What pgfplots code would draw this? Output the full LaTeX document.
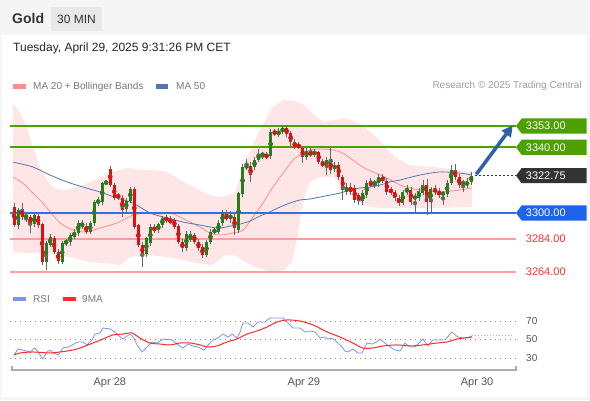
\documentclass[border=0pt]{standalone}
\usepackage{fontspec}
\setmainfont{Liberation Sans}
\usepackage{pgfplots}
\usepackage{pgfplotstable}
\pgfplotsset{compat=1.18}
\usetikzlibrary{arrows.meta}

\definecolor{cgreen}{HTML}{2A7A1E}
\definecolor{cred}{HTML}{E01010}
\definecolor{wick}{HTML}{666666}
\definecolor{lvgreen}{HTML}{4CA000}
\definecolor{lvblue}{HTML}{2F6FE8}
\definecolor{tagblue}{HTML}{1E63F0}
\definecolor{tagdark}{HTML}{333333}
\definecolor{lvred}{HTML}{FF9E9E}
\definecolor{txtred}{HTML}{FF3030}
\definecolor{bbfill}{HTML}{FFE6E6}
\definecolor{ma20}{HTML}{FF8C8C}
\definecolor{ma50}{HTML}{5276B8}
\definecolor{arrowblue}{HTML}{2D62A8}
\definecolor{rsiblue}{HTML}{7B96E6}
\definecolor{rsired}{HTML}{FF2A2A}
\definecolor{txtgray}{HTML}{777777}
\definecolor{axgray}{HTML}{555555}

% 30 min candles, bar index / open / high / low / close
\pgfplotstableread{
i o h l c
0 3303.6 3306 3291.4 3292.6
1 3292.6 3303 3290.5 3301.8
2 3302.4 3306 3296 3297.5
3 3297.5 3299 3294.5 3298.5
4 3297.5 3299 3287.8 3293.2
5 3293.2 3300 3291.5 3298.7
6 3298.1 3300 3291 3292.6
7 3293.2 3294 3268.2 3270.1
8 3270.1 3283 3265.2 3281.7
9 3280.4 3287 3279 3285.3
10 3284.7 3286 3275 3276.2
11 3276.2 3278 3269 3270.7
12 3270.1 3283 3269 3281.7
13 3281.7 3284 3280 3282.9
14 3282.3 3288 3280 3286.5
15 3285.3 3290 3284 3288.4
16 3287.8 3296 3286 3293.9
17 3291.4 3296 3290 3293.9
18 3292 3294 3287 3288.4
19 3288.4 3295 3287 3293.9
20 3293.9 3308 3292 3306.7
21 3306.7 3310 3304 3307.3
22 3306.7 3319 3305 3318.2
23 3318.2 3320 3317 3318.8
24 3326.8 3328.6 3316 3317.0
25 3317 3318 3308 3309.1
26 3310.9 3312 3308 3309.7
27 3309.1 3311 3297.5 3301.8
28 3302.4 3309 3300 3307.3
29 3307.3 3316 3306 3314.6
30 3314.6 3316 3290 3291.4
31 3292.6 3293 3279 3280.4
32 3280.4 3282 3267 3274.3
33 3275 3285.5 3273 3284.7
34 3281.7 3293 3280 3291.4
35 3290.8 3293 3288 3289.6
36 3289.6 3294 3288 3293.2
37 3292.6 3298 3291 3296.9
38 3296.9 3299 3294 3295.7
39 3296.3 3298 3293 3293.9
40 3295.7 3297 3290 3291.4
41 3292 3293 3281 3282.3
42 3282.3 3284 3276 3278.6
43 3278.6 3289 3277 3287.1
44 3283.5 3289 3282 3287.1
45 3286.5 3288 3281 3282.3
46 3282.3 3284 3277 3278.6
47 3279.2 3281 3272.5 3274.3
48 3274.3 3283.5 3273 3282.3
49 3282.3 3290 3281 3288.4
50 3288.4 3291 3287 3289.6
51 3288.4 3296 3287 3293.9
52 3293.9 3302 3292 3300.0
53 3299.3 3302 3295 3296.3
54 3296.3 3301 3294 3298.7
55 3297.5 3300 3286.5 3290.8
56 3289.6 3313 3288 3312.1
57 3311.5 3330 3310 3328.0
58 3328 3333 3326 3328.6
59 3328.6 3331 3318.9 3323.1
60 3328.0 3334 3326 3332.3
61 3332.3 3339 3331 3335.9
62 3335.3 3337 3333 3335.9
63 3335.3 3337 3333 3334.1
64 3334.7 3351 3333 3349.3
65 3349.3 3351 3347 3348.7
66 3348.1 3352 3346 3349.3
67 3349.3 3353.5 3348 3351.8
68 3351.8 3353.5 3346 3348.1
69 3348.7 3350 3341 3343.2
70 3343.2 3345 3339 3340.2
71 3341.4 3343 3339 3340.2
72 3339.6 3341 3330.4 3334.1
73 3334.1 3340 3332 3337.8
74 3337.1 3340 3334 3335.3
75 3335.9 3339 3334 3337.1
76 3337.1 3338 3330 3331.0
77 3330.4 3333 3328 3329.2
78 3329.2 3334 3323.1 3332.3
79 3332.3 3339.6 3324 3326.2
80 3326.8 3331 3325 3329.2
81 3329.2 3331 3320 3321.9
82 3321.9 3323 3307.9 3314.0
83 3312.8 3318 3311 3315.8
84 3315.8 3318 3311 3312.8
85 3315.2 3317 3306 3307.9
86 3310.9 3312 3304.8 3307.3
87 3307.3 3314 3305 3312.1
88 3310.9 3320 3309 3318.2
89 3318.2 3321 3316 3317.0
90 3317.6 3320 3315 3318.9
91 3318.2 3324 3316 3321.9
92 3321.9 3324 3318 3319.5
93 3319.5 3321 3311 3312.8
94 3314.0 3316 3311 3312.8
95 3312.8 3314 3307 3309.1
96 3309.1 3311 3304 3306.0
97 3306 3314 3305 3312.8
98 3312.8 3317 3311 3314.6
99 3314.0 3316 3305 3306.7
100 3309.1 3312 3300 3309.7
101 3309.1 3315 3307 3313.4
102 3312.1 3320 3311 3317.0
103 3317 3321 3298.7 3306.7
104 3306.7 3316 3299.3 3314.6
105 3314.6 3317 3311 3312.8
106 3313.4 3315 3309 3310.9
107 3311.5 3313 3304.8 3312.1
108 3311.5 3320 3310 3318.2
109 3318.2 3329.2 3317 3326.2
110 3326.2 3330 3320 3321.9
111 3321.9 3324 3315 3317.0
112 3317.6 3320 3312.8 3318.9
113 3317.0 3321 3315 3318.9
114 3318.9 3325 3317 3322.75
}\candles

\begin{document}
\begin{tikzpicture}[x=1pt,y=1pt]
\fill[black!4] (0,0) rectangle (590,-400);
\fill[white] (2,-35) rectangle (587,-397);

% header
\node[anchor=west, inner sep=0, font=\fontsize{14}{16}\selectfont\bfseries, text=tagdark] at (12,-18) {Gold};
\fill[black!9] (51,-7) rectangle (102,-31);
\node[inner sep=0, font=\fontsize{12}{14}\selectfont, text=tagdark] at (76.5,-19) {30 MIN};
\node[anchor=west, inner sep=0, font=\fontsize{12}{14}\selectfont, text=black!85] at (13,-48) {Tuesday, April 29, 2025 9:31:26 PM CET};

% legends
\fill[ma20] (13,-84.3) rectangle (26,-89);
\node[anchor=west, inner sep=0, font=\fontsize{10}{12}\selectfont, text=txtgray] at (33,-86.5) {MA 20 + Bollinger Bands};
\fill[ma50] (156,-84.3) rectangle (168,-89);
\node[anchor=west, inner sep=0, font=\fontsize{10}{12}\selectfont, text=txtgray] at (176,-86.5) {MA 50};
\node[anchor=east, inner sep=0, font=\fontsize{10}{12}\selectfont, text=black!38] at (582,-86) {Research © 2025 Trading Central};
\fill[rsiblue] (13,-297.3) rectangle (26,-300.7);
\node[anchor=west, inner sep=0, font=\fontsize{10}{12}\selectfont, text=txtgray] at (33,-299) {RSI};
\fill[rsired] (63,-297.3) rectangle (76,-300.7);
\node[anchor=west, inner sep=0, font=\fontsize{10}{12}\selectfont, text=txtgray] at (82,-299) {9MA};

% price panel
\begin{axis}[
    at={(10pt,-95pt)}, anchor=north west,
    scale only axis, width=506pt, height=187pt,
    xmin=-1, xmax=125.2, ymin=3257.9, ymax=3371.9,
    axis lines=none, clip=false,
]
% Bollinger band: upper edge left to right, then lower edge right to left
\addplot[fill=bbfill, draw=none, forget plot] coordinates {
(-0.25,3367.0) (1.5,3360.9) (3.2,3352.4) (4.7,3340.2) (6.5,3328.0) (8.2,3320.1)
(9.7,3315.8) (11.5,3314.0) (13.2,3314.0) (17.2,3317.0) (21.4,3321.3) (24.7,3325.0)
(28.2,3327.4) (31.4,3326.2) (34.7,3326.2) (38.2,3325.0) (41.4,3320.1) (44.4,3316.4)
(48.6,3310.9) (51.9,3309.7) (55.1,3312.1) (57.6,3331.0) (61.1,3349.3) (64.3,3364.0)
(67.1,3368.9) (70.1,3368.2) (72.6,3365.2) (74.8,3359.7) (77.3,3355.4) (82.3,3357.9)
(85.5,3355.4) (89.0,3349.3) (91.5,3343.2) (95.3,3333.5) (98.5,3329.2) (107.0,3327.4)
(114.2,3325.0)
(114.2,3303.6) (103.7,3303.0) (96.3,3303.0) (91.3,3303.0) (86.8,3304.8) (84.3,3309.7)
(81.8,3317.0) (79.6,3321.9) (76.3,3321.9) (73.8,3318.9) (72.1,3307.9) (70.8,3286.5)
(69.3,3270.1) (67.3,3265.2) (64.3,3264.0) (61.1,3266.4) (57.6,3270.1) (55.1,3274.3)
(52.6,3274.3) (49.4,3268.2) (45.4,3269.5) (42.1,3271.3) (38.2,3273.1) (33.9,3274.3)
(28.9,3273.1) (26.4,3268.2) (22.4,3269.5) (18.5,3270.1) (15.2,3272.5) (8.5,3275.6)
(3.5,3275.6) (-0.25,3276.2)};

% MA 20
\addplot[ma20, line width=0.8pt, smooth, forget plot] coordinates {
(-0.25,3321.9) (2.2,3318.2) (4.7,3312.1) (7.2,3306.0) (9.7,3298.7) (11.5,3293.9)
(14.7,3289.6) (18.2,3288.4) (21.4,3290.8) (25.7,3293.9) (29.7,3298.7) (33.2,3300.0)
(36.4,3299.3) (38.9,3300.0) (41.4,3297.5) (43.9,3294.5) (46.4,3291.4) (48.9,3287.8)
(51.4,3286.5) (54.6,3287.8) (57.1,3289.6) (59.6,3297.5) (62.1,3306.0) (64.6,3315.8)
(67.1,3324.3) (69.6,3332.3) (71.3,3335.3) (73.8,3338.4) (76.3,3339.0) (79.6,3338.4)
(82.0,3336.5) (84.5,3332.3) (87.0,3328.0) (89.5,3325.0) (93.0,3321.3) (96.3,3317.0)
(98.8,3315.2) (101.2,3314.0) (106.2,3312.8) (111.2,3314.0) (114.2,3315.2)};
% MA 50
\addplot[ma50, line width=0.8pt, smooth, forget plot] coordinates {
(-0.25,3331.0) (4.7,3328.0) (9.0,3323.1) (13.2,3318.9) (17.2,3315.8) (21.4,3312.8)
(25.7,3309.1) (29.7,3306.0) (33.9,3300.0) (38.2,3296.9) (42.1,3294.5) (46.4,3292.6)
(48.9,3291.4) (51.4,3290.8) (53.9,3292.0) (56.4,3293.2) (58.9,3295.1) (61.3,3298.1)
(63.8,3300.6) (66.3,3303.6) (68.8,3306.0) (71.3,3307.9) (73.8,3308.5) (76.3,3309.7)
(78.8,3310.9) (81.3,3312.1) (83.8,3314.0) (86.3,3315.2) (88.8,3315.8) (91.3,3317.0)
(93.8,3318.9) (96.3,3320.1) (101.2,3323.1) (106.2,3325.0) (111.2,3324.3) (114.2,3323.1)};

% levels
\addplot[lvgreen, line width=2pt, forget plot] coordinates {(-1,3353) (125.2,3353)};
\addplot[lvgreen, line width=2pt, forget plot] coordinates {(-1,3340) (125.2,3340)};
\addplot[lvblue, line width=1.5pt, forget plot] coordinates {(-1,3300) (125.2,3300)};
\addplot[lvred, line width=1.6pt, forget plot] coordinates {(-1,3284) (125.2,3284)};
\addplot[lvred, line width=1.2pt, forget plot] coordinates {(-1,3264) (125.2,3264)};

% candles: wicks, then bodies
\addplot[only marks, mark=none, color=wick, forget plot,
    error bars/.cd, y dir=both, y explicit, error mark=none,
    error bar style={line width=0.8pt}]
    table[x=i, y expr={(\thisrow{h}+\thisrow{l})/2}, y error expr={(\thisrow{h}-\thisrow{l})/2}] {\candles};
\addplot[only marks, mark=none, color=cgreen, forget plot,
    restrict expr to domain={\thisrow{c}-\thisrow{o}}{0:1000},
    error bars/.cd, y dir=both, y explicit, error mark=none,
    error bar style={line width=3pt}]
    table[x=i, y expr={(\thisrow{o}+\thisrow{c})/2}, y error expr={abs(\thisrow{c}-\thisrow{o})/2}] {\candles};
\addplot[only marks, mark=none, color=cred, forget plot,
    restrict expr to domain={\thisrow{c}-\thisrow{o}}{-1000:-0.001},
    error bars/.cd, y dir=both, y explicit, error mark=none,
    error bar style={line width=3pt}]
    table[x=i, y expr={(\thisrow{o}+\thisrow{c})/2}, y error expr={abs(\thisrow{c}-\thisrow{o})/2}] {\candles};

% current price and projection arrow
\draw[tagdark!80!blue, line width=0.8pt, dash pattern=on 2pt off 2pt] (axis cs:115,3322.75) -- (axis cs:125.2,3322.75);
\draw[arrowblue, line width=3.5pt, -{Triangle[length=11pt,width=11pt]}] (axis cs:115.3,3323.6) -- (axis cs:124.4,3353.4);

% tags
\fill[lvgreen] (axis cs:125.2,3353) -- ++(5.7pt,7.6pt) -- ++(65pt,0pt) -- ++(0pt,-15.2pt) -- ++(-65pt,0pt) -- cycle;
\node[anchor=west, inner sep=0, text=white, font=\fontsize{11}{13}\selectfont] at ([xshift=9.7pt]axis cs:125.2,3353) {3353.00};
\fill[lvgreen] (axis cs:125.2,3340) -- ++(5.7pt,7.6pt) -- ++(65pt,0pt) -- ++(0pt,-15.2pt) -- ++(-65pt,0pt) -- cycle;
\node[anchor=west, inner sep=0, text=white, font=\fontsize{11}{13}\selectfont] at ([xshift=9.7pt]axis cs:125.2,3340) {3340.00};
\fill[tagdark] (axis cs:125.2,3322.75) -- ++(5.7pt,7.6pt) -- ++(65pt,0pt) -- ++(0pt,-15.2pt) -- ++(-65pt,0pt) -- cycle;
\node[anchor=west, inner sep=0, text=white, font=\fontsize{11}{13}\selectfont] at ([xshift=9.7pt]axis cs:125.2,3322.75) {3322.75};
\fill[tagblue] (axis cs:125.2,3300) -- ++(5.7pt,7.6pt) -- ++(65pt,0pt) -- ++(0pt,-15.2pt) -- ++(-65pt,0pt) -- cycle;
\node[anchor=west, inner sep=0, text=white, font=\fontsize{11}{13}\selectfont] at ([xshift=9.7pt]axis cs:125.2,3300) {3300.00};
\node[anchor=west, inner sep=0, text=txtred, font=\fontsize{11}{13}\selectfont] at ([xshift=9.7pt]axis cs:125.2,3284) {3284.00};
\node[anchor=west, inner sep=0, text=txtred, font=\fontsize{11}{13}\selectfont] at ([xshift=9.7pt]axis cs:125.2,3264) {3264.00};
\end{axis}

% RSI panel
\begin{axis}[
    at={(10pt,-300pt)}, anchor=north west,
    scale only axis, width=506pt, height=70pt,
    xmin=-1, xmax=125.2, ymin=17, ymax=92.7,
    clip=false,
    axis x line*=bottom, axis y line*=left,
    x axis line style={draw=none}, y axis line style={draw=none},
    xtick={23.9,72.3,115.5}, xticklabels={Apr 28,Apr 29,Apr 30},
    xticklabel style={anchor=center, yshift=-13pt, font=\fontsize{11}{13}\selectfont, text=axgray},
    ytick={30,50,70}, yticklabels={},
    major tick length=0pt,
    ymajorgrids,
    y grid style={black!45, line width=0.6pt, dash pattern=on 0.8pt off 4.2pt},
]
\addplot[rsiblue, line width=0.8pt, forget plot] coordinates {
(0.0,33.2) (1.0,39.7) (2.2,38.6) (4.0,36.5) (5.2,40.8) (6.0,36.5) (7.2,28.9)
(8.2,36.5) (9.0,38.6) (9.7,35.4) (11.0,33.2) (12.2,40.8) (13.5,41.9) (14.5,44.1)
(16.0,47.3) (17.2,47.3) (18.2,44.1) (19.5,49.5) (20.2,55.9) (21.4,57.0) (22.2,62.4)
(23.9,61.4) (25.2,58.1) (25.9,54.9) (27.2,50.5) (28.9,55.9) (29.7,52.7) (30.7,44.1)
(31.9,36.5) (33.2,41.9) (34.4,47.3) (35.7,46.2) (37.2,50.5) (39.4,49.5) (40.9,44.1)
(42.1,40.8) (43.4,45.1) (44.6,43.0) (45.9,41.9) (47.4,38.6) (48.4,44.1) (49.6,49.5)
(50.9,51.6) (52.1,55.9) (53.4,52.7) (54.4,55.9) (55.6,51.6) (56.4,58.1) (57.1,67.8)
(58.4,67.8) (59.6,63.5) (60.8,68.9) (62.6,68.9) (63.8,73.2) (65.6,73.2) (67.1,73.2)
(68.3,67.8) (69.6,62.4) (71.3,62.4) (72.6,58.1) (73.8,59.2) (75.1,58.1) (76.3,51.6)
(77.6,52.7) (78.3,50.5) (79.3,51.6) (80.5,47.3) (81.8,41.9) (82.5,37.6) (83.3,36.5)
(84.5,39.7) (85.8,35.4) (86.8,35.4) (88.0,46.2) (89.3,45.1) (90.5,47.3) (91.3,50.5)
(92.5,46.2) (93.8,41.9) (95.0,38.6) (96.3,37.6) (97.5,46.2) (98.8,41.9) (100.0,41.9)
(102.0,50.5) (103.2,43.0) (104.5,49.5) (105.7,49.5) (107.5,49.5) (109.2,58.1)
(110.7,52.7) (112.0,51.6) (113.2,51.6) (114.2,53.8)};
\addplot[rsiblue!70, line width=0.8pt, dash pattern=on 1.5pt off 1.5pt, forget plot] coordinates {(114.2,54.9) (124.4,54.9)};
\addplot[rsired, line width=1pt, smooth, forget plot] coordinates {
(0.0,33.2) (1.5,35.4) (4.7,36.5) (9.0,35.4) (11.5,36.5) (14.7,38.6) (17.2,41.9)
(19.7,46.2) (22.2,50.5) (24.7,54.9) (27.2,55.9) (29.4,57.0) (31.4,51.6) (33.9,46.2)
(36.4,45.1) (38.9,44.1) (41.4,46.2) (43.9,46.2) (46.4,44.1) (48.1,41.9) (50.6,43.0)
(53.1,47.3) (55.6,50.5) (58.1,55.9) (60.6,59.2) (63.1,63.5) (65.6,68.9) (68.1,71.1)
(71.3,70.0) (74.6,65.7) (78.1,58.1) (81.3,52.7) (84.5,46.2) (87.0,40.8) (89.5,40.8)
(92.0,43.0) (95.5,44.1) (98.8,43.0) (102.0,44.1) (105.5,46.2) (108.0,47.3)
(110.5,50.5) (114.2,52.7)};
\draw[black!32, line width=1.6pt] (axis cs:-0.5,21.3) -- (axis cs:-0.5,17) -- (axis cs:125.2,17) -- (axis cs:125.2,21.3);
\node[anchor=west, inner sep=0, text=axgray, font=\fontsize{10}{12}\selectfont] at ([xshift=10pt]axis cs:125.2,70) {70};
\node[anchor=west, inner sep=0, text=axgray, font=\fontsize{10}{12}\selectfont] at ([xshift=10pt]axis cs:125.2,50) {50};
\node[anchor=west, inner sep=0, text=axgray, font=\fontsize{10}{12}\selectfont] at ([xshift=10pt]axis cs:125.2,30) {30};
\end{axis}
\end{tikzpicture}
\end{document}
